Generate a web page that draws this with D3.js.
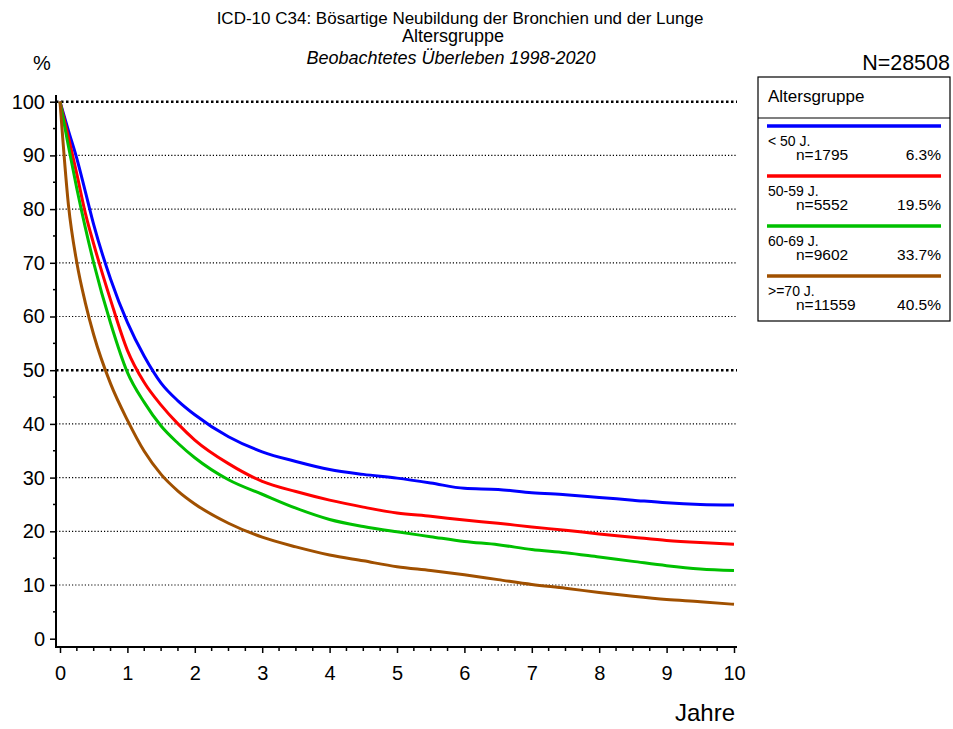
<!DOCTYPE html>
<html>
<head>
<meta charset="utf-8">
<script src="https://cdn.jsdelivr.net/npm/d3@7"></script>
<style>
  body { margin: 0; background: #fff; }
  svg { font-family: "Liberation Sans", Arial, sans-serif; }
</style>
</head>
<body>
<script>
// Daten
const years = [0, 0.125, 0.25, 0.375, 0.5, 0.75, 1, 1.25, 1.5, 1.75, 2, 2.5, 3, 3.5, 4, 4.5, 5, 5.5, 6, 6.5, 7, 7.5, 8, 8.5, 9, 9.5, 10];
const under50 = [100, 94.6, 89.4, 83.3, 77.1, 67, 58.9, 52.6, 47.6, 44.3, 41.7, 37.6, 34.8, 33.0, 31.5, 30.6, 29.9, 29.0, 28.0, 27.8, 27.2, 26.8, 26.3, 25.8, 25.3, 25.0, 24.9];
const age50to59 = [100, 93.4, 86.5, 79.3, 73.5, 63.1, 53.7, 47.7, 43.5, 40.0, 37.0, 32.6, 29.3, 27.4, 25.8, 24.5, 23.4, 22.8, 22.1, 21.5, 20.8, 20.2, 19.5, 18.9, 18.3, 17.9, 17.6];
const age60to69 = [100, 91.7, 83.8, 76.6, 70, 58.8, 49.6, 44.0, 39.6, 36.4, 33.7, 29.6, 26.9, 24.3, 22.2, 20.9, 19.9, 19.0, 18.1, 17.5, 16.6, 16.0, 15.2, 14.4, 13.6, 13.0, 12.7];
const age70plus = [100, 80.8, 70, 62.6, 56.6, 47.5, 40.7, 34.9, 30.6, 27.5, 25.1, 21.5, 18.9, 17.1, 15.6, 14.5, 13.4, 12.7, 11.9, 11.0, 10.1, 9.4, 8.6, 7.9, 7.3, 6.9, 6.4];

const groupNames = ["< 50 J.", "50-59 J.", "60-69 J.", ">=70 J."];
const groupN = [1795, 5552, 9602, 11559];
const groupShare = ["6.3%", "19.5%", "33.7%", "40.5%"];
const groupColors = ["#0000ff", "#ff0000", "#00c000", "#a05000"];
const groupValues = [under50, age50to59, age60to69, age70plus];

const yTicks = d3.range(0, 101, 10);
const xTicks = d3.range(0, 11, 1);

const width = 953, height = 729;

const svg = d3.select("body").append("svg")
    .attr("width", width)
    .attr("height", height);

const x = d3.scaleLinear().domain([0, 10]).range([60, 734]);
const y = d3.scaleLinear().domain([0, 100]).range([638.7, 101.7]);

// Titel
const title = svg.append("g").attr("text-anchor", "middle").attr("fill", "#000");
title.append("text").attr("x", 460).attr("y", 23.5).attr("font-size", 17).text("ICD-10 C34: Bösartige Neubildung der Bronchien und der Lunge");
title.append("text").attr("x", 453).attr("y", 42).attr("font-size", 18).text("Altersgruppe");
title.append("text").attr("x", 451).attr("y", 64).attr("font-size", 18).attr("font-style", "italic").text("Beobachtetes Überleben 1998-2020");

svg.append("text").attr("x", 42).attr("y", 70).attr("font-size", 20).attr("text-anchor", "middle").text("%");
svg.append("text").attr("x", 950).attr("y", 70).attr("font-size", 21.5).attr("text-anchor", "end").text("N=28508");

// Gitterlinien
svg.append("g").selectAll("line").data(yTicks.filter(d => d > 0)).join("line")
    .attr("x1", 56).attr("x2", 737)
    .attr("y1", d => y(d)).attr("y2", d => y(d))
    .attr("stroke", "#000")
    .attr("stroke-width", d => d % 50 === 0 ? 2.5 : 1.2)
    .attr("stroke-dasharray", d => d % 50 === 0 ? "2.5,2.5" : "1.2,2");

// y-Achse
const gy = svg.append("g").attr("transform", "translate(56,0)");
gy.call(d3.axisLeft(y).tickValues(yTicks).tickSize(6).tickSizeOuter(0).tickPadding(5))
    .call(g => g.select(".domain").remove())
    .call(g => g.selectAll("text").attr("font-size", 20).attr("font-family", "Liberation Sans, Arial, sans-serif").attr("fill", "#000"))
    .call(g => g.selectAll("line").attr("stroke-width", 1.5));
gy.append("g").selectAll("line").data(d3.range(5, 100, 10)).join("line")
    .attr("x1", -3).attr("x2", 0)
    .attr("y1", d => y(d)).attr("y2", d => y(d))
    .attr("stroke", "#000").attr("stroke-width", 1.5);
gy.append("line").attr("x1", 0).attr("x2", 0).attr("y1", 95).attr("y2", 648)
    .attr("stroke", "#000").attr("stroke-width", 2);

// x-Achse
const gx = svg.append("g").attr("transform", "translate(0,647)");
gx.call(d3.axisBottom(x).tickValues(xTicks).tickSize(6).tickSizeOuter(0).tickPadding(13))
    .call(g => g.select(".domain").remove())
    .call(g => g.selectAll("text").attr("font-size", 20).attr("font-family", "Liberation Sans, Arial, sans-serif").attr("fill", "#000"))
    .call(g => g.selectAll("line").attr("stroke-width", 1.5));
gx.append("g").selectAll("line").data(d3.range(0, 10.01, 0.25).filter(d => d % 1 !== 0)).join("line")
    .attr("x1", d => x(d)).attr("x2", d => x(d))
    .attr("y1", 0).attr("y2", 4)
    .attr("stroke", "#000").attr("stroke-width", 1.5);
gx.append("line").attr("x1", 55).attr("x2", 737).attr("y1", 0).attr("y2", 0)
    .attr("stroke", "#000").attr("stroke-width", 2);

svg.append("text").attr("x", 735).attr("y", 721).attr("font-size", 24).attr("text-anchor", "end").text("Jahre");

// Kurven
const line = d3.line()
    .x((d, i) => x(years[i]))
    .y(d => y(d))
    .curve(d3.curveMonotoneX);

svg.append("g").selectAll("path").data(groupValues).join("path")
    .attr("fill", "none")
    .attr("stroke", (d, i) => groupColors[i])
    .attr("stroke-width", 3)
    .attr("stroke-linejoin", "round")
    .attr("d", line);

// Legende
const legend = svg.append("g");
legend.append("rect").attr("x", 758).attr("y", 77).attr("width", 192).attr("height", 244)
    .attr("fill", "none").attr("stroke", "#000").attr("stroke-width", 1.2);
legend.append("line").attr("x1", 758).attr("x2", 950).attr("y1", 118).attr("y2", 118)
    .attr("stroke", "#000").attr("stroke-width", 1.2);
legend.append("text").attr("x", 768).attr("y", 102).attr("font-size", 17).text("Altersgruppe");

const item = legend.selectAll("g.item").data(groupNames).join("g")
    .attr("class", "item")
    .attr("transform", (d, i) => `translate(0,${126 + i * 50})`);
item.append("line").attr("x1", 767).attr("x2", 941).attr("y1", 0).attr("y2", 0)
    .attr("stroke", (d, i) => groupColors[i]).attr("stroke-width", 3.5);
item.append("text").attr("x", 768).attr("y", 20).attr("font-size", 14).text(d => d);
item.append("text").attr("x", 796).attr("y", 34).attr("font-size", 15.5).text((d, i) => "n=" + groupN[i]);
item.append("text").attr("x", 941).attr("y", 34).attr("font-size", 15.5).attr("text-anchor", "end").text((d, i) => groupShare[i]);
</script>
</body>
</html>
